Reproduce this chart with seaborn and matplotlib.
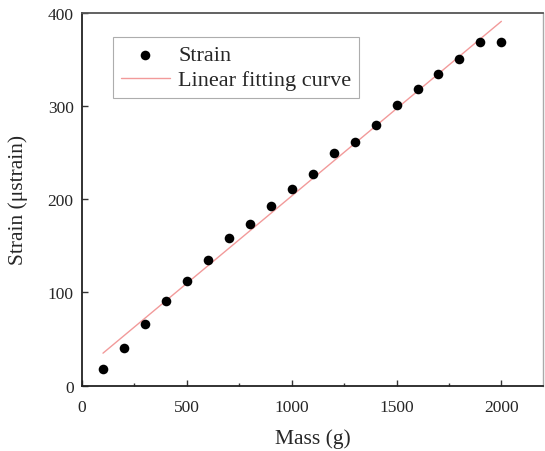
import numpy as np
import pandas as pd
import matplotlib
matplotlib.use("Agg")
import matplotlib.pyplot as plt
from matplotlib.ticker import MultipleLocator
import seaborn as sns

mass = [100, 200, 300, 400, 500, 600, 700, 800, 900, 1000,
        1100, 1200, 1300, 1400, 1500, 1600, 1700, 1800, 1900, 2000]
strain = [18, 40, 66, 91, 112, 135, 158, 174, 193, 211,
          227, 250, 262, 280, 301, 319, 335, 351, 369, 369]

df = pd.DataFrame({"mass": mass, "strain": strain})
slope, intercept = np.polyfit(df["mass"], df["strain"], 1)
df["fit"] = slope * df["mass"] + intercept

sns.set_style("ticks")
plt.rcParams["font.family"] = ["Liberation Serif", "DejaVu Serif"]

fig = plt.figure(figsize=(5.45, 4.52), dpi=100)
ax = fig.add_axes([0.1505, 0.1449, 0.8464, 0.8235])

sns.scatterplot(data=df, x="mass", y="strain", ax=ax, color="black", s=48,
                edgecolor="black", linewidth=0, label="Strain", zorder=3)
sns.lineplot(data=df, x="mass", y="fit", ax=ax, color="#f29a9a", linewidth=1.0,
             label="Linear fitting curve", zorder=2)

ax.set_xlim(0, 2200)
ax.set_ylim(0, 400)
ax.xaxis.set_major_locator(MultipleLocator(500))
ax.xaxis.set_minor_locator(MultipleLocator(250))
ax.yaxis.set_major_locator(MultipleLocator(100))
ax.tick_params(axis="both", which="both", direction="in", labelsize=12.5, color="#333333")
ax.tick_params(which="major", length=4, width=1)
ax.tick_params(which="minor", length=2.5, width=1)
ax.tick_params(axis="x", which="major", pad=10)
ax.tick_params(axis="y", which="major", pad=6)

ax.set_xlabel("Mass (g)", fontsize=15.5, labelpad=9)
ax.set_ylabel("Strain (μstrain)", fontsize=15.5, labelpad=14)

for side in ["left", "bottom"]:
    ax.spines[side].set_color("#222222")
    ax.spines[side].set_linewidth(1.3)
ax.spines["top"].set_color("#555555")
ax.spines["top"].set_linewidth(1.3)
ax.spines["right"].set_color("#aaaaaa")
ax.spines["right"].set_linewidth(1.0)

leg = ax.legend(loc="upper left", bbox_to_anchor=(0.067, 0.936), borderaxespad=0,
                fontsize=16, frameon=True, fancybox=False, handlelength=2.2,
                handletextpad=0.4, borderpad=0.35, labelspacing=0.2)
leg.get_frame().set_edgecolor("#999999")
leg.get_frame().set_linewidth(0.8)

fig.savefig("out.png", dpi=100)
